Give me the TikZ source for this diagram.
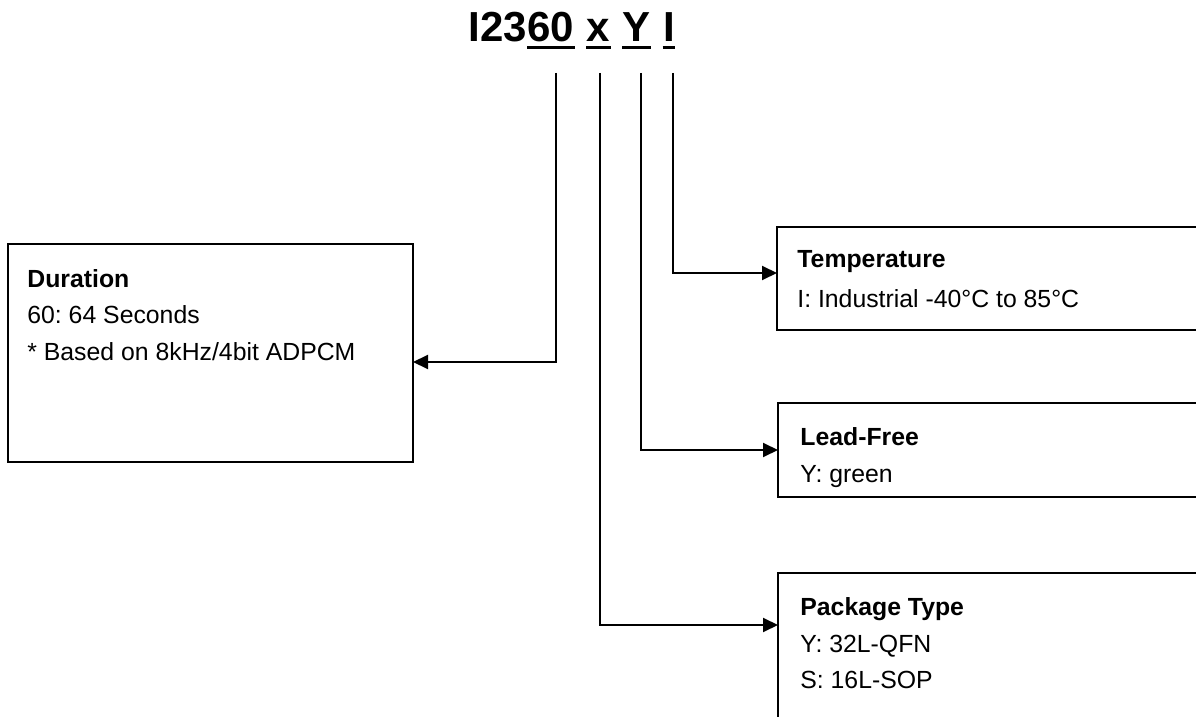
\documentclass[tikz,border=0pt]{standalone}
\usepackage{fontspec}
\setmainfont{Liberation Sans}
\usetikzlibrary{positioning,arrows.meta}
\frenchspacing
\begin{document}
\begin{tikzpicture}[x=0.5pt,y=-0.5pt,
        ttl/.style={inner sep=0pt,font=\fontsize{21}{25}\selectfont\bfseries},
        txt/.style={inner sep=0pt,anchor=base west,font=\fontsize{12.4}{15}\selectfont},
        infobox/.style={draw,line width=1pt,inner sep=0pt,outer sep=0pt,anchor=north west},
        conn/.style={line width=1pt,-{Triangle[length=7.5pt,width=7pt]}},
        uline/.style={line width=1.5pt}]
        \useasboundingbox (0,0) rectangle (1196,717);
        \clip (0,0) rectangle (1196,717);
        % part number
        \node[ttl,anchor=base west] (t0) at (468,42) {I23};
        \node[ttl,base right=0pt of t0] (t1) {60};
        \node[ttl,base right=5.84pt of t1] (t2) {x};
        \node[ttl,base right=5.84pt of t2] (t3) {Y};
        \node[ttl,base right=5.84pt of t3] (t4) {I};
        \foreach \n in {t1,t2,t3,t4}
          \draw[uline] ([yshift=-3pt]\n.base west) -- ([yshift=-3pt]\n.base east);
        \coordinate (s1) at ([xshift=2.75pt,yshift=-15.5pt]t1.base);
        \coordinate (s2) at ([xshift=0.9pt,yshift=-15.5pt]t2.base);
        \coordinate (s3) at ([xshift=2.1pt,yshift=-15.5pt]t3.base);
        \coordinate (s4) at ([xshift=1.85pt,yshift=-15.5pt]t4.base);
        % boxes
        \node[infobox,minimum width=202.5pt,minimum height=109pt] (dur) at (8,244) {};
        \node[infobox,minimum width=231.5pt,minimum height=51.5pt] (temp) at (777,227) {};
        \node[infobox,minimum width=231pt,minimum height=47pt] (lead) at (778,403) {};
        \node[infobox,minimum width=231pt,minimum height=95pt] (pkg) at (778,573) {};
        \node[txt] (durA) at ([xshift=9.5pt,yshift=-21.5pt]dur.north west) {\textbf{Duration}};
        \node[txt] (durB) at ([yshift=-18pt]durA.base west) {60: 64 Seconds};
        \node[txt] (durC) at ([yshift=-18.5pt]durB.base west) {* Based on 8kHz/4bit ADPCM};
        \node[txt] (tempA) at ([xshift=10pt,yshift=-20.5pt]temp.north west) {\textbf{Temperature}};
        \node[txt] (tempB) at ([yshift=-19.5pt]tempA.base west) {I: Industrial -40°C to 85°C};
        \node[txt] (leadA) at ([xshift=11pt,yshift=-21pt]lead.north west) {\textbf{Lead-Free}};
        \node[txt] (leadB) at ([yshift=-18.5pt]leadA.base west) {Y: green};
        \node[txt] (pkgA) at ([xshift=11pt,yshift=-21pt]pkg.north west) {\textbf{Package Type}};
        \node[txt] (pkgB) at ([yshift=-18.5pt]pkgA.base west) {Y: 32L-QFN};
        \node[txt] (pkgC) at ([yshift=-18pt]pkgB.base west) {S: 16L-SOP};
        % connectors
        \draw[conn] (s1) |- ([yshift=-4.5pt]dur.east);
        \draw[conn] (s2) |- ([yshift=-26pt]pkg.north west);
        \draw[conn] (s3) |- (lead.west);
        \draw[conn] (s4) |- ([yshift=2.75pt]temp.west);
      \end{tikzpicture}
\end{document}
